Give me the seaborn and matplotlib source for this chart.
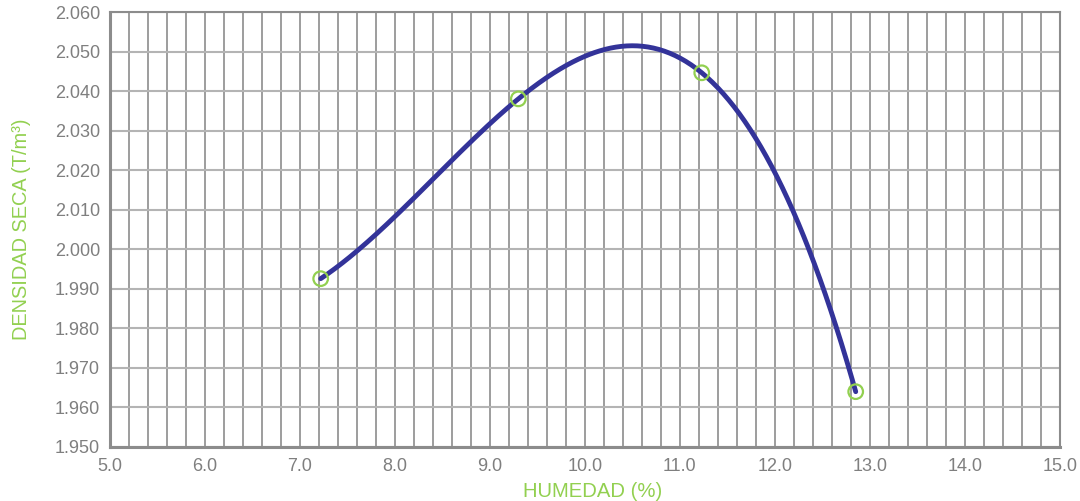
import matplotlib
matplotlib.use("Agg")
import matplotlib.pyplot as plt
import numpy as np
import pandas as pd
import seaborn as sns
from matplotlib.ticker import MultipleLocator, FormatStrFormatter

# datos del ensayo (humedad %, densidad seca T/m3)
HUMEDAD = [7.22, 9.30, 11.23, 12.85]
DENSIDAD = [1.9926, 2.0381, 2.0447, 1.9640]

X_LIM = (5.0, 15.0)
Y_LIM = (1.950, 2.060)

VERDE = "#92d050"
AZUL = "#333399"
GRIS = "#7f7f7f"

sns.set_theme(style="white")
plt.rcParams["font.family"] = ["Liberation Sans", "DejaVu Sans"]

puntos = pd.DataFrame({"humedad": HUMEDAD, "densidad": DENSIDAD})

# curva de tendencia polinómica (grado 3) como en la hoja de cálculo
coef = np.polyfit(puntos["humedad"], puntos["densidad"], 3)
xs = np.linspace(min(HUMEDAD), max(HUMEDAD), 300)
curva = pd.DataFrame({"humedad": xs, "densidad": np.polyval(coef, xs)})

fig = plt.figure(figsize=(10.8, 5.01), dpi=100)
ax = fig.add_axes([0.1016, 0.1078, 0.8799, 0.8676])

ax.xaxis.set_minor_locator(MultipleLocator(0.2))
ax.xaxis.set_major_locator(MultipleLocator(1.0))
ax.yaxis.set_major_locator(MultipleLocator(0.010))
ax.xaxis.set_major_formatter(FormatStrFormatter("%.1f"))
ax.yaxis.set_major_formatter(FormatStrFormatter("%.3f"))
ax.set_xlim(*X_LIM)
ax.set_ylim(*Y_LIM)

ax.grid(which="major", axis="x", color="#8c8c8c", lw=1.2)
ax.grid(which="minor", axis="x", color="#8c8c8c", lw=1.2)
ax.grid(which="major", axis="y", color="#b4b4b4", lw=1.5)
ax.set_axisbelow(True)

sns.lineplot(data=curva, x="humedad", y="densidad", color=AZUL, lw=3.5,
             ax=ax, zorder=3)
sns.scatterplot(data=puntos, x="humedad", y="densidad", marker="o", s=110,
                facecolor="none", edgecolor=VERDE, linewidth=1.6, ax=ax, zorder=4)

for lado in ax.spines.values():
    lado.set_color("#8c8c8c")
    lado.set_linewidth(1.5)
ax.spines["left"].set_linewidth(2.2)
ax.spines["bottom"].set_linewidth(2.2)

ax.tick_params(axis="both", which="major", colors=GRIS, labelsize=13,
               length=5, width=1.3, direction="out")
ax.tick_params(axis="x", which="minor", length=0)
ax.tick_params(axis="x", pad=3)
ax.tick_params(axis="y", pad=2)

ax.set_xlabel("HUMEDAD (%)", color=VERDE, fontsize=14.6, labelpad=5)
ax.xaxis.label.set_x(0.508)
ax.set_ylabel("DENSIDAD SECA (T/m³)", color=VERDE, fontsize=14.4, labelpad=17)

fig.savefig("out.png", dpi=100)
